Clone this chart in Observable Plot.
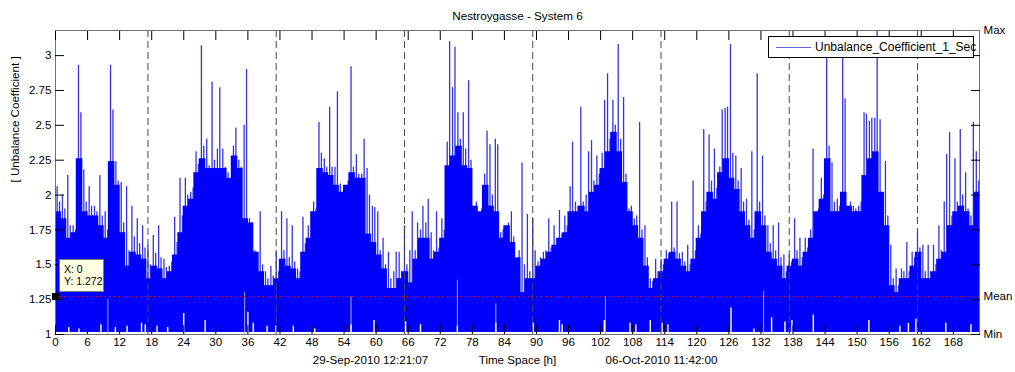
<!DOCTYPE html>
<html><head><meta charset="utf-8">
<script src="https://cdn.jsdelivr.net/npm/d3@7"></script>
<script src="https://cdn.jsdelivr.net/npm/@observablehq/plot@0.6"></script>
<style>
html,body{margin:0;padding:0;background:#fff;}
#wrap{position:relative;width:1015px;height:372px;font-family:"Liberation Sans",Arial,sans-serif;}
#legend{position:absolute;left:768px;top:36px;width:204px;height:20px;border:1px solid #000;background:#fff;font-size:12px;}
#legend .sw{position:absolute;left:7px;top:10px;width:35px;height:0;border-top:1.5px solid #6464d6;}
#legend .tx{position:absolute;left:46px;top:3px;white-space:nowrap;}
#tip{position:absolute;left:59px;top:259px;width:45px;height:33px;background:#ffffe1;border:1px solid #7a7a7a;box-sizing:border-box;font-size:10.5px;line-height:11.5px;padding:4px 0 0 4px;color:#000;}
</style></head><body><div id="wrap"></div>
<script>
// ---- data ----
const title = "Nestroygasse - System 6";
const yLabel = "[ Unbalance Coefficient ]";
const xLabel = "Time Space [h]";
const dateLabels = ["29-Sep-2010 12:21:07", "06-Oct-2010 11:42:00"];
const xTicks = [0,6,12,18,24,30,36,42,48,54,60,66,72,78,84,90,96,102,108,114,120,126,132,138,144,150,156,162,168];
const yTicks = [1,1.25,1.5,1.75,2,2.25,2.5,2.75,3];
const statLabels = ["Max", "Mean", "Min"];
const statValues = [3.18, 1.272, 1];
const dayBreaks = [17.3, 41.3, 65.3, 89.3, 113.3, 137.3, 161.3];
const tipX = 0, tipY = 1.272;
const seriesName = "Unbalance_Coefficient_1_Sec";

// hourly dense level of the 1-second series (hour 0 .. 172)
const body = [
1.88,1.83,1.69,1.73,2.26,1.88,1.85,1.85,1.78,1.69,
2.24,2.07,1.73,1.49,1.59,1.57,1.54,1.40,1.49,1.47,
1.40,1.45,1.57,1.73,1.92,1.97,2.16,2.26,2.19,2.19,
2.19,2.19,2.12,2.28,2.19,1.83,1.80,1.59,1.45,1.35,
1.35,1.40,1.54,1.49,1.47,1.40,1.59,1.69,1.88,2.19,
2.16,2.14,2.07,2.02,2.07,2.16,2.12,2.12,1.72,1.66,
1.57,1.47,1.33,1.33,1.40,1.45,1.37,1.54,1.69,1.69,
1.54,1.59,1.69,2.21,2.28,2.35,2.21,2.19,1.92,1.88,
2.07,1.92,1.88,1.69,1.78,1.66,1.55,1.30,1.40,1.40,
1.49,1.54,1.59,1.64,1.69,1.73,1.88,1.88,1.92,1.88,
2.02,2.07,2.19,2.31,2.45,2.31,2.09,1.88,1.78,1.69,
1.49,1.33,1.40,1.45,1.54,1.59,1.54,1.49,1.45,1.54,
1.69,1.88,2.02,1.97,2.16,2.26,2.12,2.04,1.88,1.78,
1.69,1.88,1.78,1.59,1.54,1.49,1.40,1.49,1.54,1.49,
1.59,1.69,1.88,1.97,2.26,1.88,1.88,2.02,1.92,1.88,
1.88,2.14,2.26,2.31,2.02,1.78,1.35,1.30,1.40,1.40,
1.49,1.59,1.40,1.40,1.45,1.54,1.59,1.78,1.88,1.92,
1.88,1.78,2.02];
// first spike in each hour
const peak1 = [
2.06,2.00,2.14,1.78,2.93,2.18,2.06,1.92,2.14,1.88,
2.93,2.24,2.09,2.06,1.92,1.83,1.78,1.64,1.71,1.78,
1.54,1.49,1.84,2.12,2.12,2.02,2.31,3.07,2.40,2.81,
2.33,2.33,2.16,2.35,2.25,2.50,1.83,1.60,1.88,1.45,
1.49,1.59,1.88,1.83,1.78,1.47,1.84,1.78,1.95,2.52,
2.26,2.63,2.20,2.08,2.02,2.92,2.29,2.15,2.19,1.92,
1.88,1.69,1.59,1.45,1.59,1.78,1.60,1.60,1.75,1.80,
1.73,1.88,1.83,2.38,2.77,2.59,2.59,2.82,1.85,1.83,
2.15,2.36,2.40,1.73,1.65,1.88,1.50,2.23,1.86,1.83,
1.52,1.59,1.83,1.78,1.89,1.85,2.06,1.95,2.63,2.00,
2.39,2.28,2.30,2.87,2.68,3.08,2.70,1.90,1.83,2.52,
1.78,1.40,1.54,1.54,1.60,1.95,1.95,1.59,1.64,2.10,
1.78,2.47,2.43,2.33,2.20,2.62,3.08,2.28,2.19,1.97,
2.31,2.87,2.28,1.78,1.78,1.80,1.57,1.57,1.83,1.69,
1.69,1.75,1.83,2.12,3.05,2.23,1.97,3.04,1.88,1.92,
1.92,2.59,2.53,2.55,2.54,2.24,1.64,1.47,1.47,1.66,
1.59,1.73,1.64,1.64,1.64,1.78,1.95,2.45,2.26,2.47,
2.16,1.85,2.31];
// second spike in each hour
const peak2 = [
1.95,1.90,1.78,1.75,2.59,1.95,1.92,1.88,1.85,1.75,
2.61,2.10,1.80,1.60,1.70,1.65,1.62,1.50,1.58,1.55,
1.48,1.52,1.66,1.85,2.00,2.05,2.22,2.35,2.21,2.25,
2.77,2.20,2.10,2.48,2.20,2.90,1.80,1.55,1.50,1.40,
1.42,1.45,1.60,1.55,1.52,1.45,1.65,1.88,1.90,2.30,
2.20,2.20,2.74,1.92,2.10,2.20,2.15,2.40,2.00,1.91,
1.60,1.50,1.40,1.59,1.45,1.50,1.88,1.80,1.92,1.97,
1.60,1.62,1.75,3.10,3.06,2.40,2.33,2.25,1.95,1.90,
2.46,2.00,2.36,1.75,1.80,1.70,1.60,1.50,1.45,1.60,
1.55,1.60,1.62,1.69,1.72,1.78,2.38,1.92,1.95,2.31,
2.10,2.15,2.68,2.40,2.50,2.40,2.15,1.92,1.85,1.75,
1.55,1.38,1.45,1.50,1.58,1.62,1.58,1.52,1.50,1.60,
1.72,1.95,2.10,2.05,2.61,2.63,2.30,2.10,1.95,1.82,
1.75,1.95,1.85,1.65,1.60,1.55,1.45,1.52,1.60,1.55,
1.62,2.33,1.90,2.00,2.35,1.95,1.92,2.69,1.95,1.90,
1.95,2.58,2.55,3.18,1.88,1.85,1.40,1.35,1.45,1.45,
1.55,1.62,1.45,1.45,1.50,1.60,2.29,1.85,1.95,2.00,
1.90,2.52,2.10];
// low readings (white dips at the bottom)
const dipHours = [2.5,4.4,8.5,11.2,13.4,16.1,16.8,19,21,24,28,36,37,39.6,41.2,44.5,48.5,55.3,59.6,65.5,68.3,75.2,82.4,89.4,94.3,94.8,102.7,107.5,108.6,111.3,113.5,114.6,126.4,130.7,134,136.5,137.8,141.8,152.2,158,159.6,161,166.6,171.3];
const dipTops  = [1.05,1.04,1.07,1.05,1.06,1.08,1.07,1.06,1.05,1.15,1.10,1.16,1.08,1.06,1.06,1.06,1.04,1.07,1.10,1.09,1.07,1.06,1.08,1.08,1.10,1.07,1.10,1.08,1.07,1.10,1.08,1.07,1.19,1.04,1.12,1.09,1.10,1.14,1.10,1.06,1.08,1.11,1.08,1.07];
// pale gaps inside the dense band
const gapHours = [9.8, 35.4, 55.3, 75.2, 82.4, 102.9, 132.5];
const gapTops  = [1.25, 1.30, 1.27, 1.39, 1.22, 1.27, 1.31];

// ---- build ----
const rows = body.map((v, i) => ({h: i, body: v, p1: peak1[i], p2: peak2[i]}));
const dips = dipHours.map((h, i) => ({h, top: dipTops[i]}));
const gaps = gapHours.map((h, i) => ({h, top: gapTops[i]}));
const font = '"Liberation Sans", Arial, sans-serif';
const fmt = d => String(d);

const chart = Plot.plot({
  width: 1015, height: 372,
  marginLeft: 55, marginRight: 36, marginTop: 30, marginBottom: 38,
  style: {fontFamily: font, fontSize: "11.6px", background: "#fff", color: "#000"},
  x: {domain: [0, 172.9]},
  y: {domain: [1, 3.18]},
  marks: [
    Plot.ruleX(rows, {x: d => d.h + 0.3, y1: 1.015, y2: "p1", stroke: "#3434e0", strokeWidth: 1.3, clip: true}),
    Plot.ruleX(rows, {x: d => d.h + 0.75, y1: 1.015, y2: "p2", stroke: "#3434e0", strokeWidth: 1.3, clip: true}),
    Plot.rect(rows, {x1: "h", x2: d => d.h + 1, y1: 1.015, y2: "body", fill: "#0000ff", insetLeft: -0.6, insetRight: -0.6, clip: true}),
    Plot.ruleX(gaps, {x: "h", y1: 1, y2: "top", stroke: "#a8a8e8", strokeWidth: 1}),
    Plot.ruleX(dips, {x: "h", y1: 1, y2: "top", stroke: "#fff", strokeWidth: 1.4}),
    Plot.ruleY(statValues, {stroke: "#ff0000", strokeDasharray: "1.5,3", strokeWidth: 1}),
    Plot.ruleX(dayBreaks, {stroke: "#4a4a4a", strokeDasharray: "7,4", strokeWidth: 1}),
    Plot.frame({stroke: "#707070"}),
    Plot.axisX(xTicks, {anchor: "bottom", tickSize: -9, tickPadding: 12, tickFormat: fmt, label: null}),
    Plot.axisX(xTicks, {anchor: "top", tickSize: -9, tickFormat: () => "", label: null}),
    Plot.axisY(yTicks, {anchor: "left", tickSize: -9, tickPadding: 13, tickFormat: fmt, label: null}),
    Plot.axisY(yTicks, {anchor: "right", tickSize: -9, tickFormat: () => "", label: null}),
    Plot.dot([{x: tipX, y: tipY}], {x: "x", y: "y", symbol: "square", fill: "#000", r: 4}),
    Plot.text([title], {text: d => d, frameAnchor: "top", lineAnchor: "middle", dy: -14, fontSize: 11.7}),
    Plot.text([yLabel], {text: d => d, frameAnchor: "left", lineAnchor: "middle", rotate: -90, dx: -40}),
    Plot.text([xLabel], {text: d => d, frameAnchor: "bottom", lineAnchor: "middle", dy: 26}),
    Plot.text([dateLabels[0]], {text: d => d, frameAnchor: "bottom-left", lineAnchor: "middle", textAnchor: "middle", dx: 315, dy: 26}),
    Plot.text([dateLabels[1]], {text: d => d, frameAnchor: "bottom-left", lineAnchor: "middle", textAnchor: "middle", dx: 606, dy: 26}),
    Plot.text(statLabels, {text: d => d, y: (d, i) => statValues[i], frameAnchor: "right", textAnchor: "start", lineAnchor: "middle", dx: 4})
  ]
});

const wrap = document.getElementById("wrap");
wrap.appendChild(chart);
const lg = document.createElement("div");
lg.id = "legend";
lg.innerHTML = '<div class="sw"></div><div class="tx"></div>';
lg.querySelector(".tx").textContent = seriesName;
wrap.appendChild(lg);
const tip = document.createElement("div");
tip.id = "tip";
tip.innerHTML = "X: " + tipX + "<br>Y: " + tipY;
wrap.appendChild(tip);
</script></body></html>
